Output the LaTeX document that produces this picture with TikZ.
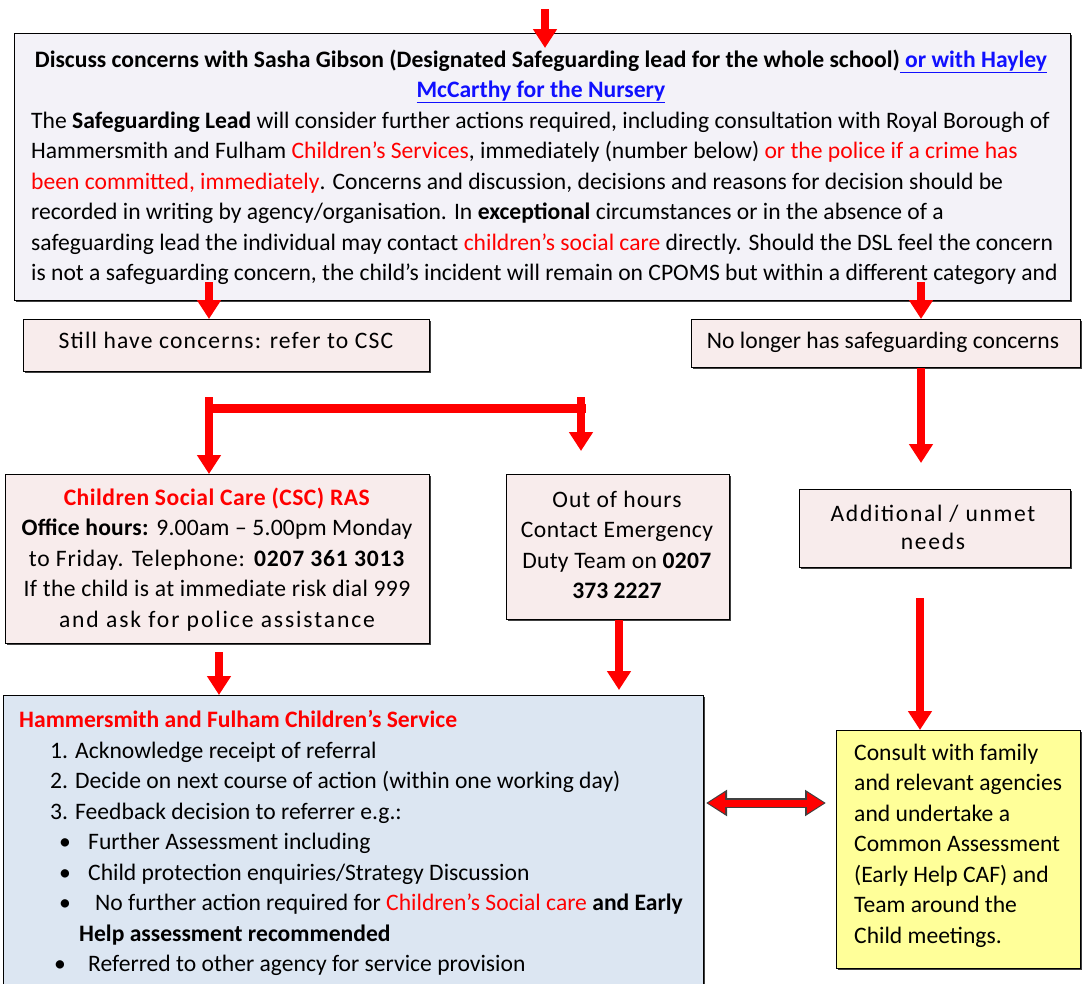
\documentclass[tikz,border=0pt]{standalone}
\usepackage{fontspec}
\setmainfont{Carlito}
\usetikzlibrary{arrows.meta,shadows}
\definecolor{topfill}{HTML}{F3F2F8}
\definecolor{pinkfill}{HTML}{F8ECEC}
\definecolor{bluefill}{HTML}{DCE6F2}
\definecolor{yelfill}{HTML}{FFFF99}
\definecolor{rd}{HTML}{FF0000}
\definecolor{lnk}{HTML}{1010FF}
\newcommand{\rt}[1]{\textcolor{rd}{#1}}
\newcommand{\lk}[1]{\textcolor{lnk}{\underline{#1}}}
\newcommand{\lsp}[2]{{\addfontfeature{LetterSpace=#1}#2}}
\begin{document}
\begin{tikzpicture}[x=1pt,y=-1pt,
 box/.style={draw=black, line width=1.2pt, inner sep=0pt,
   drop shadow={shadow xshift=1.5pt, shadow yshift=-1.5pt, fill=black!75, opacity=1}},
 txt/.style={inner sep=0pt, font=\fontsize{23.6}{30.5}\selectfont},
 arr/.style={draw=rd, line width=8pt, -{Triangle[width=23pt,length=19pt]}},
 bar/.style={draw=rd, line width=9pt}
]
\useasboundingbox (0,0) rectangle (1082,983);
% boxes
\node[box, fill=topfill, minimum width=1056pt, minimum height=267pt, anchor=north west] (top) at (14,33) {};
\node[box, fill=pinkfill, minimum width=406pt, minimum height=52pt, anchor=north west] (still) at (23,319) {};
\node[box, fill=pinkfill, minimum width=389pt, minimum height=48pt, anchor=north west] (no) at (691,319) {};
\node[box, fill=pinkfill, minimum width=424pt, minimum height=169pt, anchor=north west] (csc) at (5,474) {};
\node[box, fill=pinkfill, minimum width=223pt, minimum height=145pt, anchor=north west] (ooh) at (506,474) {};
\node[box, fill=pinkfill, minimum width=271pt, minimum height=78pt, anchor=north west] (add) at (799,489) {};
\node[box, fill=bluefill, minimum width=700pt, minimum height=300pt, anchor=north west] (hf) at (3,695) {};
\node[box, fill=yelfill, minimum width=244pt, minimum height=238pt, anchor=north west] (yel) at (836,730) {};
% texts
\node[txt, anchor=base] (t1) at (541,67) {\begin{tabular}[t]{@{}c@{}}
\textbf{Discuss concerns with Sasha Gibson (Designated Safeguarding lead for the whole school)}\lk{\textbf{ or with Hayley}}\\
\lk{\textbf{McCarthy for the Nursery}}\end{tabular}};
\node[txt, anchor=base west] (t2) at (31,128) {\begin{tabular}[t]{@{}l@{}}
The \textbf{Safeguarding Lead} will consider further actions required, including consultation with Royal Borough of\\
Hammersmith and Fulham \rt{Children’s Services}, immediately (number below) \rt{or the police if a crime has}\\
\rt{been committed, immediately}. Concerns and discussion, decisions and reasons for decision should be\\
recorded in writing by agency/organisation. In \textbf{exceptional} circumstances or in the absence of a\\
safeguarding lead the individual may contact \rt{children’s social care} directly. Should the DSL feel the concern\\
is not a safeguarding concern, the child’s incident will remain on CPOMS but within a different category and
\end{tabular}};
\node[txt, anchor=base] (t3) at (226,348) {\lsp{5}{Still have concerns: refer to CSC}};
\node[txt, anchor=base] (t4) at (883,348) {No longer has safeguarding concerns};
\node[txt, anchor=base] (t5) at (217,505) {\begin{tabular}[t]{@{}c@{}}
\lsp{2}{\rt{\textbf{Children Social Care (CSC) RAS}}}\\
\lsp{1}{\textbf{Office hours:} 9.00am – 5.00pm Monday}\\
\lsp{3.4}{to Friday. Telephone: \textbf{0207 361 3013}}\\
\lsp{1.6}{If the child is at immediate risk dial 999}\\
\lsp{8}{and ask for police assistance}\end{tabular}};
\node[txt, anchor=base] (t6) at (617,507) {\begin{tabular}[t]{@{}c@{}}
\lsp{4}{Out of hours}\\ \lsp{2}{Contact Emergency}\\ \lsp{1}{Duty Team on \textbf{0207}}\\ \textbf{373 2227}\end{tabular}};
\node[txt, anchor=base, font=\fontsize{23.6}{28.5}\selectfont] (t7) at (933,521) {\begin{tabular}[t]{@{}c@{}}
\lsp{7}{Additional / unmet}\\ \lsp{7}{needs}\end{tabular}};
\node[txt, anchor=base west] (t8) at (19,727) {\rt{\textbf{Hammersmith and Fulham Children’s Service}}};
\node[txt, anchor=base west] (t9) at (50,758) {\begin{tabular}[t]{@{}l@{}}
1. Acknowledge receipt of referral\\
2. Decide on next course of action (within one working day)\\
3. Feedback decision to referrer e.g.:\\
\makebox[38pt][l]{\hspace*{9pt}•}Further Assessment including\\
\makebox[38pt][l]{\hspace*{9pt}•}Child protection enquiries/Strategy Discussion\\
\makebox[45pt][l]{\hspace*{9pt}•}No further action required for \rt{Children’s Social care} \textbf{and Early}\\
\hspace*{29pt}\textbf{Help assessment recommended}\\
\makebox[38pt][l]{\hspace*{4pt}•}Referred to other agency for service provision
\end{tabular}};
\node[txt, anchor=base west] (t10) at (854,760) {\begin{tabular}[t]{@{}l@{}}
Consult with family\\ and relevant agencies\\ and undertake a\\ Common Assessment\\
(Early Help CAF) and\\ Team around the\\ Child meetings.\end{tabular}};
% connectors
\coordinate (a0) at (545,9);
\draw[arr] (a0) -- ([yshift=-15pt]top.north -| a0);
\coordinate (b0) at (209,282);
\draw[arr] (b0) -- (b0 |- still.north);
\coordinate (b1) at (921,282);
\draw[arr] (b1) -- (b1 |- no.north);
\coordinate (c1) at (921,463);
\draw[arr] (no.south -| c1) -- (c1);
\coordinate (k1) at (209,397);
\coordinate (k2) at (581,397);
\coordinate (k3) at (581,451);
\coordinate (kl) at (205,408);
\coordinate (kr) at (585.5,408);
\draw[bar] (kl) -- (kr);
\draw[arr] (k1) -- (k1 |- csc.north);
\draw[arr] (k2) -- (k3);
\coordinate (e1) at (219,652);
\draw[arr] (e1) -- (e1 |- hf.north);
\coordinate (e2) at (619,690);
\draw[arr] (ooh.south -| e2) -- (e2);
\coordinate (c2) at (920,598);
\draw[arr] (c2) -- (c2 |- yel.north);
\coordinate (d1) at (706,803);
\coordinate (d2) at (826,803);
\draw[line width=10pt, draw=black!75, {Triangle[width=25pt,length=21pt]}-{Triangle[width=25pt,length=21pt]}] (d1) -- (d2);
\draw[line width=7pt, draw=rd, {Triangle[width=20pt,length=17pt]}-{Triangle[width=20pt,length=17pt]}, shorten <=2pt, shorten >=2pt] (d1) -- (d2);
\end{tikzpicture}
\end{document}
